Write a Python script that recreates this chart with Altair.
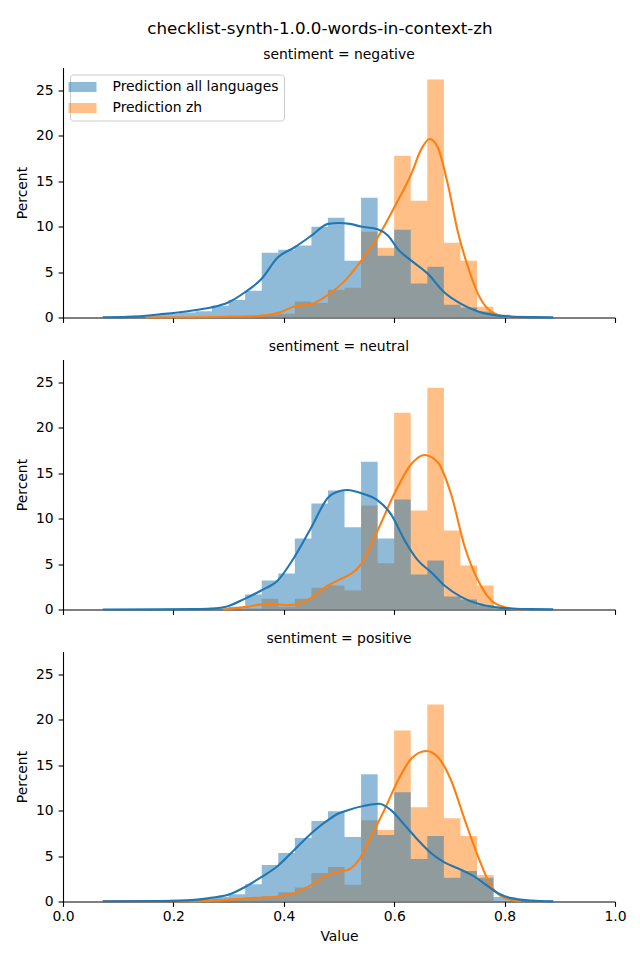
import altair as alt
import pandas as pd

TITLE = "checklist-synth-1.0.0-words-in-context-zh"
SERIES = ["Prediction all languages", "Prediction zh"]
COLORS = ["#1f77b4", "#ff7f0e"]
PANELS = ["negative", "neutral", "positive"]
X_TICKS = [0.0, 0.2, 0.4, 0.6, 0.8, 1.0]
Y_TICKS = [0, 5, 10, 15, 20, 25]

BIN_EDGES = [0.072, 0.09, 0.12, 0.15, 0.18, 0.21, 0.24, 0.27, 0.30, 0.33,
             0.36, 0.39, 0.42, 0.45, 0.48, 0.51, 0.54, 0.57, 0.60, 0.63,
             0.66, 0.69, 0.72, 0.75, 0.78, 0.81, 0.84, 0.87, 0.888]

# histogram percentages per bin
NEG_ALL = [0.05, 0.05, 0.1, 0.25, 0.4, 0.55, 0.7, 1.3, 1.95, 2.94, 7.12, 7.45, 7.93, 9.99,
           10.98, 6.24, 13.18, 6.79, 9.65, 3.74, 5.58, 1.39, 1.10, 0.66, 0.3, 0.1, 0.05, 0.05]
NEG_ZH = [0, 0, 0, 0, 0, 0, 0, 0.05, 0.1, 0.2, 0.3, 0.4, 1.76, 1.6, 3.05, 3.27, 9.43, 7.67,
          17.8, 12.85, 26.17, 8.22, 6.24, 1.17, 0.1, 0, 0, 0]
NEU_ALL = [0.02, 0.02, 0.02, 0.02, 0.02, 0.03, 0.05, 0.15, 0.3, 1.65, 3.19, 3.96, 7.8, 11.65,
           13.08, 9.05, 16.26, 7.8, 12.09, 3.85, 5.38, 1.43, 1.1, 0.44, 0.15, 0.05, 0.02, 0.02]
NEU_ZH = [0, 0, 0, 0, 0, 0, 0, 0, 0.05, 0.1, 1.17, 0.3, 1.17, 2.38, 2.64, 2.09, 11.43, 5.09,
          21.65, 10.88, 24.4, 8.68, 4.84, 2.64, 0.1, 0, 0, 0]
POS_ALL = [0.12, 0.12, 0.12, 0.12, 0.12, 0.15, 0.3, 0.5, 0.8, 1.9, 4.02, 5.34, 6.98, 8.85,
           9.94, 7.09, 14.0, 7.31, 12.02, 4.68, 7.2, 2.6, 3.36, 2.6, 0.5, 0.15, 0.1, 0.1]
POS_ZH = [0.1, 0.1, 0.1, 0.1, 0.1, 0.1, 0.2, 0.3, 0.37, 0.48, 0.55, 1.02, 1.54, 3.14, 3.8,
          1.83, 8.95, 7.86, 18.82, 10.38, 21.67, 9.17, 7.2, 2.92, 0, 0, 0, 0]

# density curves
NEG_ALL_KX = [0.072, 0.117, 0.178, 0.238, 0.268, 0.299, 0.329, 0.359, 0.389, 0.419, 0.450,
              0.480, 0.500, 0.520, 0.540, 0.570, 0.589, 0.607, 0.631, 0.661, 0.691, 0.722,
              0.752, 0.782, 0.812, 0.849, 0.888]
NEG_ALL_KY = [0.02, 0.07, 0.37, 0.8, 1.1, 1.65, 2.75, 4.2, 6.6, 7.7, 9.0, 10.3, 10.4, 10.3,
              10.0, 9.7, 9.0, 7.5, 6.25, 4.8, 2.75, 1.47, 0.66, 0.26, 0.1, 0.04, 0.01]
NEG_ZH_KX = [0.15, 0.25, 0.30, 0.359, 0.389, 0.419, 0.450, 0.480, 0.510, 0.540, 0.570,
             0.600, 0.631, 0.649, 0.664, 0.679, 0.697, 0.715, 0.734, 0.752, 0.770, 0.788,
             0.806, 0.824]
NEG_ZH_KY = [0.0, 0.03, 0.08, 0.18, 0.48, 1.2, 1.47, 2.5, 4.0, 6.24, 8.8, 12.1, 15.8, 18.5,
             19.64, 18.7, 14.7, 9.5, 5.5, 2.57, 0.92, 0.29, 0.07, 0.01]
NEU_ALL_KX = [0.072, 0.178, 0.238, 0.268, 0.299, 0.329, 0.359, 0.389, 0.419, 0.450, 0.480,
              0.500, 0.516, 0.540, 0.570, 0.594, 0.619, 0.643, 0.667, 0.691, 0.722, 0.752,
              0.782, 0.812, 0.849, 0.888]
NEU_ALL_KY = [0.0, 0.01, 0.04, 0.1, 0.37, 1.17, 2.09, 3.19, 5.75, 9.05, 12.3, 13.0, 13.15,
              12.8, 12.0, 10.5, 7.6, 5.4, 4.1, 2.64, 1.36, 0.62, 0.26, 0.11, 0.04, 0.01]
NEU_ZH_KX = [0.29, 0.329, 0.371, 0.407, 0.431, 0.456, 0.480, 0.500, 0.540, 0.570, 0.600,
             0.631, 0.655, 0.679, 0.703, 0.728, 0.752, 0.776, 0.800, 0.818, 0.83]
NEU_ZH_KY = [0.0, 0.26, 0.62, 0.48, 0.7, 1.54, 2.64, 3.25, 5.0, 8.68, 12.7, 16.0, 17.0, 16.19,
             12.7, 6.85, 3.19, 0.99, 0.26, 0.07, 0.01]
POS_ALL_KX = [0.072, 0.178, 0.238, 0.268, 0.299, 0.329, 0.359, 0.389, 0.419, 0.450, 0.480,
              0.500, 0.516, 0.546, 0.573, 0.594, 0.619, 0.643, 0.667, 0.691, 0.715, 0.740,
              0.764, 0.788, 0.812, 0.849, 0.888]
POS_ALL_KY = [0.01, 0.04, 0.18, 0.4, 0.73, 1.57, 2.67, 3.91, 5.67, 7.5, 8.95, 9.7, 10.05,
              10.53, 10.75, 10.05, 8.4, 6.76, 5.3, 4.31, 3.65, 2.92, 1.94, 0.91, 0.37, 0.11,
              0.01]
POS_ZH_KX = [0.072, 0.238, 0.299, 0.329, 0.359, 0.389, 0.419, 0.450, 0.480, 0.500, 0.516,
             0.540, 0.558, 0.582, 0.607, 0.631, 0.658, 0.679, 0.703, 0.728, 0.752, 0.776,
             0.794, 0.812, 0.830]
POS_ZH_KY = [0.0, 0.04, 0.18, 0.33, 0.44, 0.55, 0.91, 1.83, 2.92, 3.3, 3.47, 4.93, 7.13,
             10.05, 13.34, 15.72, 16.56, 15.9, 13.34, 8.95, 4.93, 1.64, 0.55, 0.18, 0.04]

FONT = "DejaVu Sans"
FS = 13.9


def make_panel(idx, all_pct, zh_pct, akx, aky, zkx, zky):
    # step outline of each histogram: value of a bin holds from its left edge
    steps = pd.DataFrame({
        "series": [SERIES[0]] * len(BIN_EDGES) + [SERIES[1]] * len(BIN_EDGES),
        "x": BIN_EDGES * 2,
        "pct": list(all_pct) + [all_pct[-1]] + list(zh_pct) + [zh_pct[-1]],
    })
    kde_all = pd.DataFrame({"x": akx, "y": aky})
    kde_zh = pd.DataFrame({"x": zkx, "y": zky})

    last = idx == len(PANELS) - 1
    xscale = alt.Scale(domain=[0, 1], nice=False, zero=False)
    yscale = alt.Scale(domain=[0, 27.5], nice=False)
    if last:
        xaxis = alt.Axis(values=X_TICKS, format=".1f", title="Value", labelFlush=False,
                         labelPadding=3, titlePadding=6)
    else:
        xaxis = alt.Axis(values=X_TICKS, labels=False, title=None)
    yaxis = alt.Axis(values=Y_TICKS, title="Percent")

    if idx == 0:
        legend = alt.Legend(
            orient="top-left", offset=7, title=None,
            symbolType="M-2,-0.714L2,-0.714L2,0.714L-2,0.714Z", symbolSize=196,
            symbolOpacity=0.5, symbolStrokeWidth=0,
            labelFontSize=FS, labelFont=FONT, labelColor="black", labelOffset=23,
            labelLimit=400, rowPadding=7, padding=5.5, strokeColor="#cccccc",
            fillColor="rgba(255,255,255,0.8)", cornerRadius=3,
        )
    else:
        legend = None
    color = alt.Color("series:N", scale=alt.Scale(domain=SERIES, range=COLORS), legend=legend)

    base = alt.Chart(steps).mark_area(opacity=0.5, interpolate="step-after",
                                      strokeWidth=0).encode(
        x=alt.X("x:Q", scale=xscale, axis=xaxis),
        y=alt.Y("pct:Q", scale=yscale, axis=yaxis),
        color=color,
    )
    zh_bars = base.transform_filter(alt.datum.series == SERIES[1])
    all_bars = base.transform_filter(alt.datum.series == SERIES[0])

    zh_line = alt.Chart(kde_zh).mark_line(color=COLORS[1], strokeWidth=2.1,
                                          interpolate="monotone").encode(
        x=alt.X("x:Q", scale=xscale), y=alt.Y("y:Q", scale=yscale))
    all_line = alt.Chart(kde_all).mark_line(color=COLORS[0], strokeWidth=2.1,
                                            interpolate="monotone").encode(
        x=alt.X("x:Q", scale=xscale), y=alt.Y("y:Q", scale=yscale))

    return alt.layer(zh_bars, all_bars, zh_line, all_line).properties(
        width=552, height=250,
        title=alt.TitleParams(f"sentiment = {PANELS[idx]}", fontSize=FS, fontWeight="normal",
                              anchor="middle", baseline="bottom", offset=-8.6,
                              font=FONT, color="black"),
    )


panels = [
    make_panel(0, NEG_ALL, NEG_ZH, NEG_ALL_KX, NEG_ALL_KY, NEG_ZH_KX, NEG_ZH_KY),
    make_panel(1, NEU_ALL, NEU_ZH, NEU_ALL_KX, NEU_ALL_KY, NEU_ZH_KX, NEU_ZH_KY),
    make_panel(2, POS_ALL, POS_ZH, POS_ALL_KX, POS_ALL_KY, POS_ZH_KX, POS_ZH_KY),
]

chart = alt.vconcat(*panels, spacing=15).resolve_scale(color="independent").properties(
    title=alt.TitleParams(TITLE, fontSize=16.7, fontWeight="normal", anchor="middle",
                          frame="bounds", baseline="bottom", offset=-6.6, dx=-1,
                          font=FONT, color="black"),
    padding={"left": 7, "top": 12.5, "right": 5, "bottom": 5},
).configure(font=FONT).configure_view(stroke=None).configure_axis(
    domainColor="black", domainWidth=1.1, tickColor="black", tickWidth=1.1, tickSize=4.9,
    labelPadding=4.9, labelFontSize=FS, labelFont=FONT, labelColor="black",
    titleFontSize=FS, titleFont=FONT, titleColor="black", titleFontWeight="normal",
    titlePadding=5.6, grid=False,
)

chart.save("out.html", embed_options={"renderer": "svg", "actions": False})
